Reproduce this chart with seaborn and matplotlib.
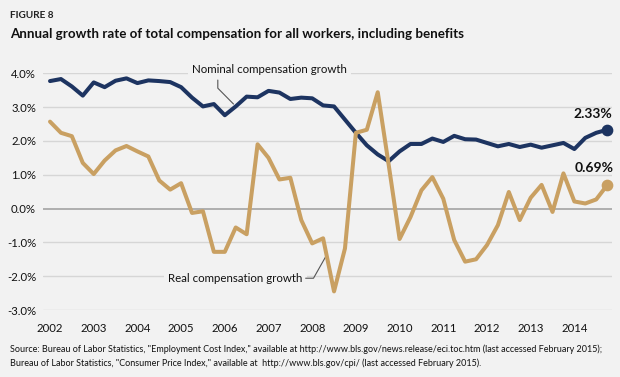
import numpy as np
import pandas as pd
import seaborn as sns
from matplotlib import pyplot as plt

# quarterly series, 2002 Q1 .. 2014 Q4 (percent, year over year)
years = list(range(2002, 2015))
nominal = [3.77, 3.83, 3.61, 3.34, 3.73, 3.59, 3.78, 3.85, 3.71, 3.79, 3.77, 3.74, 3.59,
           3.28, 3.02, 3.09, 2.76, 3.02, 3.31, 3.29, 3.48, 3.43, 3.24, 3.28, 3.26, 3.05,
           3.02, 2.63, 2.24, 1.87, 1.60, 1.40, 1.69, 1.91, 1.91, 2.07, 1.97, 2.15, 2.05,
           2.04, 1.94, 1.84, 1.91, 1.82, 1.89, 1.80, 1.87, 1.94, 1.76, 2.09, 2.24, 2.33]
real = [2.57, 2.24, 2.14, 1.35, 1.02, 1.42, 1.72, 1.85, 1.69, 1.54, 0.83, 0.56, 0.75,
        -0.13, -0.08, -1.28, -1.28, -0.56, -0.76, 1.90, 1.50, 0.86, 0.91, -0.34, -1.03, -0.88,
        -2.45, -1.18, 2.24, 2.33, 3.44, 1.30, -0.90, -0.25, 0.54, 0.93, 0.29, -0.93, -1.57,
        -1.50, -1.08, -0.49, 0.49, -0.34, 0.32, 0.70, -0.10, 1.04, 0.21, 0.15, 0.27, 0.69]
quarters = [y + q / 4 for y in years for q in range(4)]
yticks = [-3, -2, -1, 0, 1, 2, 3, 4]

df = pd.DataFrame({"quarter": quarters,
                   "Nominal compensation growth": nominal,
                   "Real compensation growth": real})
long = df.melt(id_vars="quarter", var_name="series", value_name="growth")

navy = "#1d3461"
gold = "#c9a062"
bg = "#f2f2f2"
colors = {"Nominal compensation growth": navy, "Real compensation growth": gold}

sns.set_theme(style="white")
plt.rcParams["font.family"] = ["Lato", "DejaVu Sans"]

fig = plt.figure(figsize=(6.2, 3.77), dpi=100, facecolor=bg)
ax = fig.add_axes([0.0694, 0.1777, 0.9176, 0.6279])
ax.set_facecolor(bg)

# grid lines, zero line a bit darker
for v in yticks:
    if v == 0:
        ax.axhline(v, color="#a3a3a3", lw=1.2, zorder=0)
    else:
        ax.axhline(v, color="#d6d6d6", lw=1.0, zorder=0)

sns.lineplot(data=long, x="quarter", y="growth", hue="series", palette=colors,
             linewidth=2.9, legend=False, ax=ax, zorder=3)

# end point dots + labels
ax.scatter([quarters[-1]], [nominal[-1]], s=55, color=navy, zorder=4, clip_on=False)
ax.scatter([quarters[-1]], [real[-1]], s=55, color=gold, zorder=4, clip_on=False)
ax.text(2014.43, 2.80, f"{nominal[-1]:.2f}%", ha="center", va="center",
        fontsize=10, fontweight="bold", color="#111111")
ax.text(2014.45, 1.19, f"{real[-1]:.2f}%", ha="center", va="center",
        fontsize=10, fontweight="bold", color="#111111")

# series labels with leader lines
ax.text(2007.02, 4.10, "Nominal compensation growth", ha="center", va="center",
        fontsize=8.3, color="#111111", zorder=2,
        bbox=dict(facecolor=bg, edgecolor="none", pad=3))
ax.plot([2005.84, 2005.84, 2006.20], [3.80, 3.56, 3.09], color="#555555", lw=0.8, zorder=2)
ax.text(2007.78, -2.06, "Real compensation growth", ha="right", va="center",
        fontsize=8.3, color="#111111", zorder=2,
        bbox=dict(facecolor=bg, edgecolor="none", pad=3))
ax.plot([2007.85, 2008.03, 2008.31], [-2.06, -2.06, -1.42], color="#555555", lw=0.8, zorder=2)

ax.set_xlim(2001.84, 2014.86)
ax.set_ylim(-3, 4)
ax.set_xticks(years)
ax.set_xticklabels([str(y) for y in years])
ax.set_yticks(yticks)
ax.set_yticklabels([f"{v:.1f}%" for v in yticks])
ax.tick_params(axis="both", length=0, labelsize=8.2, colors="#111111")
ax.tick_params(axis="x", pad=9)
ax.tick_params(axis="y", pad=5)
ax.set_xlabel("")
ax.set_ylabel("")
sns.despine(ax=ax, left=True, bottom=True)

fig.text(10 / 620, 1 - 15 / 377, "FIGURE 8", fontsize=7.2, fontweight="bold",
         color="#222222", va="center")
fig.text(10 / 620, 1 - 37.5 / 377,
         "Annual growth rate of total compensation for all workers, including benefits",
         fontsize=9.6, fontweight="bold", color="#111111", va="baseline")
fig.text(10 / 620, 1 - 349 / 377,
         "Source: Bureau of Labor Statistics, \"Employment Cost Index,\" available at "
         "http://www.bls.gov/news.release/eci.toc.htm (last accessed February 2015);",
         fontsize=6.5, color="#111111", va="center")
fig.text(10 / 620, 1 - 363 / 377,
         "Bureau of Labor Statistics, \"Consumer Price Index,\" available at  "
         "http://www.bls.gov/cpi/ (last accessed February 2015).",
         fontsize=6.5, color="#111111", va="center")

fig.savefig("out.png", dpi=100, facecolor=bg)
